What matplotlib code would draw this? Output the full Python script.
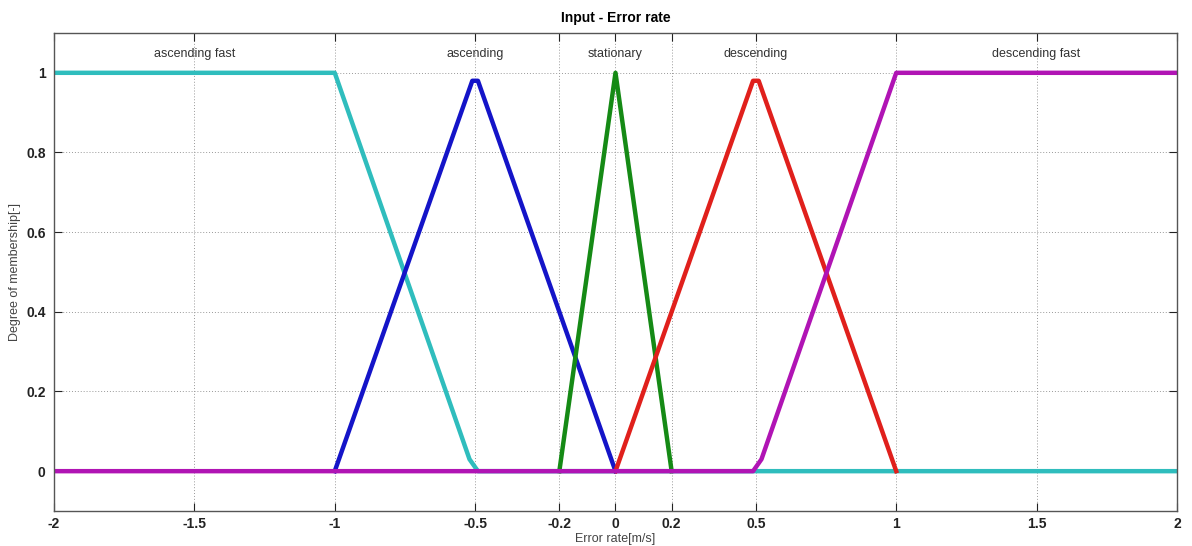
import numpy as np
import matplotlib.pyplot as plt

# -----------------------
# Membership functions (x breakpoints, membership values)
# -----------------------
asc_fast_x = [-2.0, -1.0, -0.52, -0.49, 2.0]
asc_fast_y = [1.0, 1.0, 0.03, 0.0, 0.0]

asc_x = [-1.0, -0.51, -0.49, 0.0]
asc_y = [0.0, 0.98, 0.98, 0.0]

stat_x = [-0.2, 0.0, 0.2]
stat_y = [0.0, 1.0, 0.0]

desc_x = [0.0, 0.49, 0.51, 1.0]
desc_y = [0.0, 0.98, 0.98, 0.0]

desc_fast_x = [-2.0, 0.49, 0.52, 1.0, 2.0]
desc_fast_y = [0.0, 0.0, 0.03, 1.0, 1.0]

mf_names = ["ascending fast", "ascending", "stationary", "descending", "descending fast"]
mf_label_x = [-1.5, -0.5, 0.0, 0.5, 1.5]

x_ticks = [-2, -1.5, -1, -0.5, -0.2, 0, 0.2, 0.5, 1, 1.5, 2]
x_tick_labels = ["-2", "-1.5", "-1", "-0.5", "-0.2", "0", "0.2", "0.5", "1", "1.5", "2"]
y_ticks = [0, 0.2, 0.4, 0.6, 0.8, 1]
y_tick_labels = ["0", "0.2", "0.4", "0.6", "0.8", "1"]

SANS = ["Liberation Sans", "DejaVu Sans"]

# -----------------------
# Plot
# -----------------------
fig = plt.figure(figsize=(11.92, 5.46), dpi=100)
ax = fig.add_axes([0.0453, 0.0641, 0.9421, 0.8755])

lw = 3.2
ax.plot(asc_fast_x, asc_fast_y, color="#2fbdbd", lw=lw, solid_joinstyle="round")
ax.plot(asc_x, asc_y, color="#1414c8", lw=lw, solid_joinstyle="round")
ax.plot(stat_x, stat_y, color="#158a15", lw=lw, solid_joinstyle="round")
ax.plot(desc_x, desc_y, color="#e0201c", lw=lw, solid_joinstyle="round")
ax.plot(desc_fast_x, desc_fast_y, color="#b014b4", lw=lw, solid_joinstyle="round")

for name, lx in zip(mf_names, mf_label_x):
    ax.text(lx, 1.048, name, ha="center", va="center",
            fontsize=9, color="#333333", family=SANS)

ax.set_xlim(-2, 2)
ax.set_ylim(-0.1, 1.1)

ax.set_xticks(x_ticks)
ax.set_xticklabels(x_tick_labels, fontweight="bold", family=SANS, fontsize=10)
ax.set_yticks(y_ticks)
ax.set_yticklabels(y_tick_labels, fontweight="bold", family=SANS, fontsize=10)

ax.tick_params(direction="in", top=True, right=True, length=6, width=0.8,
               colors="#222222")
ax.tick_params(axis="x", pad=4)
ax.tick_params(axis="y", pad=6)

ax.grid(True, linestyle=(0, (1, 2)), color="#999999", linewidth=0.7)
ax.set_axisbelow(True)

for sp in ax.spines.values():
    sp.set_color("#555555")
    sp.set_linewidth(1.0)

ax.set_title("Input - Error rate", fontsize=10, fontweight="bold",
             family=SANS, pad=8)
ax.set_xlabel("Error rate[m/s]", fontsize=9, color="#444444",
              family=SANS, labelpad=2)
ax.set_ylabel("Degree of membership[-]", fontsize=9, color="#444444",
              family=SANS)
ax.yaxis.set_label_coords(-0.029, 0.5)

plt.savefig("out.png", dpi=100, facecolor="white")
plt.close()
